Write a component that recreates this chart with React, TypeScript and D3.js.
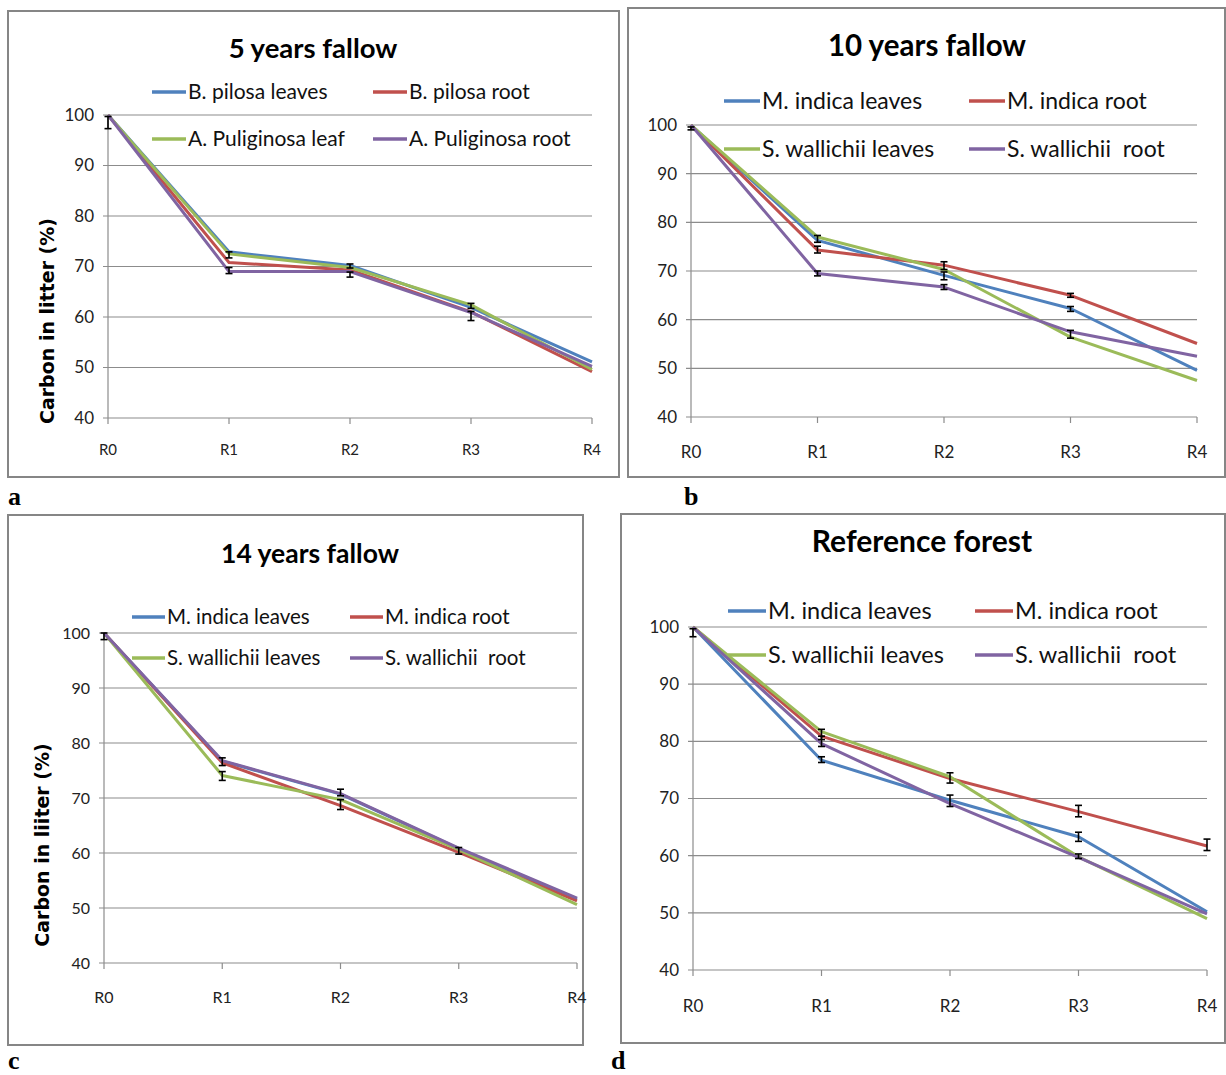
import React from 'react'
import * as d3 from 'd3'

const categories = ['R0', 'R1', 'R2', 'R3', 'R4']
const yTicks = [40, 50, 60, 70, 80, 90, 100]
const colors = ['#4F81BD', '#C0504D', '#9BBB59', '#8064A2']

// 5 years fallow
const fallow5Names = ['B. pilosa leaves', 'B. pilosa root', 'A. Puliginosa leaf', 'A. Puliginosa root']
const fallow5Values = [
  [100, 72.9, 70.2, 61.9, 51.1],
  [100, 70.8, 69.3, 61.0, 49.2],
  [100, 72.5, 69.8, 62.4, 49.6],
  [100, 69.0, 69.0, 60.9, 50.2],
]
const fallow5Errors = [
  { cat: 'R0', mean: 98.5, err: 1.2 },
  { cat: 'R1', mean: 72.3, err: 0.6 },
  { cat: 'R1', mean: 69.2, err: 0.6 },
  { cat: 'R2', mean: 70.1, err: 0.4 },
  { cat: 'R2', mean: 68.4, err: 0.5 },
  { cat: 'R3', mean: 62.2, err: 0.5 },
  { cat: 'R3', mean: 60.2, err: 0.9 },
]

// 10 years fallow
const fallow10Names = ['M. indica leaves', 'M. indica root', 'S. wallichii leaves', 'S. wallichii\u00a0 root']
const fallow10Values = [
  [100, 76.3, 69.1, 62.3, 49.6],
  [100, 74.3, 71.2, 65.0, 55.1],
  [100, 77.0, 70.3, 56.4, 47.5],
  [100, 69.5, 66.7, 57.5, 52.5],
]
const fallow10Errors = [
  { cat: 'R0', mean: 99.3, err: 0.3 },
  { cat: 'R1', mean: 76.6, err: 0.7 },
  { cat: 'R1', mean: 74.4, err: 0.7 },
  { cat: 'R1', mean: 69.5, err: 0.5 },
  { cat: 'R2', mean: 71.1, err: 0.8 },
  { cat: 'R2', mean: 69.0, err: 0.8 },
  { cat: 'R2', mean: 66.7, err: 0.5 },
  { cat: 'R3', mean: 65.0, err: 0.4 },
  { cat: 'R3', mean: 62.2, err: 0.5 },
  { cat: 'R3', mean: 57.0, err: 0.8 },
]

// 14 years fallow
const fallow14Names = ['M. indica leaves', 'M. indica root', 'S. wallichii leaves', 'S. wallichii\u00a0 root']
const fallow14Values = [
  [100, 76.7, 70.7, 60.8, 51.6],
  [100, 76.4, 68.6, 60.1, 51.3],
  [100, 74.1, 69.7, 60.6, 50.6],
  [100, 76.8, 70.8, 60.9, 51.8],
]
const fallow14Errors = [
  { cat: 'R0', mean: 99.4, err: 0.6 },
  { cat: 'R1', mean: 76.6, err: 0.7 },
  { cat: 'R1', mean: 74.0, err: 0.8 },
  { cat: 'R2', mean: 71.0, err: 0.6 },
  { cat: 'R2', mean: 68.8, err: 0.9 },
  { cat: 'R3', mean: 60.4, err: 0.6 },
]

// Reference forest
const forestNames = ['M. indica leaves', 'M. indica root', 'S. wallichii leaves', 'S. wallichii\u00a0 root']
const forestValues = [
  [100, 76.7, 69.7, 63.3, 50.2],
  [100, 80.9, 73.5, 67.7, 61.7],
  [100, 81.7, 73.8, 59.8, 49.0],
  [100, 79.6, 69.1, 59.7, 49.8],
]
const forestErrors = [
  { cat: 'R0', mean: 99.0, err: 0.7 },
  { cat: 'R1', mean: 81.2, err: 0.9 },
  { cat: 'R1', mean: 80.0, err: 0.9 },
  { cat: 'R1', mean: 76.8, err: 0.5 },
  { cat: 'R2', mean: 73.6, err: 0.9 },
  { cat: 'R2', mean: 69.6, err: 1.0 },
  { cat: 'R3', mean: 67.8, err: 1.0 },
  { cat: 'R3', mean: 63.3, err: 0.8 },
  { cat: 'R3', mean: 59.9, err: 0.4 },
  { cat: 'R4', mean: 61.9, err: 1.0 },
]

const sans = "Lato, 'Open Sans', sans-serif"

const panels = [
  {
    title: '5 years fallow', names: fallow5Names, values: fallow5Values, errors: fallow5Errors,
    frame: [8, 11, 611, 466], xr: [108, 592], yr: [418, 115], titleXY: [313, 58], titleSize: 27.5,
    legRows: [92, 139], legCols: [152, 373], legLen: 34, legSize: 21, tickY: 455, tickSize: 15, ySize: 17,
    yLabel: 'Carbon in litter (%)', yLabelXY: [47, 321], letter: 'a', letterXY: [8, 505],
  },
  {
    title: '10 years fallow', names: fallow10Names, values: fallow10Values, errors: fallow10Errors,
    frame: [628, 8, 597, 469], xr: [691, 1197], yr: [417, 125], titleXY: [927, 56], titleSize: 29.5,
    legRows: [101, 149], legCols: [724, 969], legLen: 36, legSize: 23, tickY: 458, tickSize: 17, ySize: 17,
    yLabel: '', yLabelXY: [0, 0], letter: 'b', letterXY: [684, 505],
  },
  {
    title: '14 years fallow', names: fallow14Names, values: fallow14Values, errors: fallow14Errors,
    frame: [8, 515, 575, 530], xr: [104, 577], yr: [963, 633], titleXY: [310, 563], titleSize: 26.5,
    legRows: [617, 658], legCols: [132, 350], legLen: 33, legSize: 20.5, tickY: 1003, tickSize: 16, ySize: 16,
    yLabel: 'Carbon in liiter (%)', yLabelXY: [42, 845], letter: 'c', letterXY: [8, 1069],
  },
  {
    title: 'Reference forest', names: forestNames, values: forestValues, errors: forestErrors,
    frame: [621, 514, 604, 529], xr: [693, 1207], yr: [970, 627], titleXY: [922, 552], titleSize: 30,
    legRows: [611, 655], legCols: [728, 975], legLen: 38, legSize: 23.5, tickY: 1012, tickSize: 17, ySize: 17,
    yLabel: '', yLabelXY: [0, 0], letter: 'd', letterXY: [611, 1069],
  },
]

const Panel = ({ p }) => {
  const x = d3.scalePoint().domain(categories).range(p.xr)
  const y = d3.scaleLinear().domain([40, 100]).range(p.yr)
  const line = d3.line().x((d, i) => x(categories[i])).y(d => y(d))
  const [fx, fy, fw, fh] = p.frame
  const x0 = p.xr[0]
  const x1 = p.xr[1]
  return (
    <g>
      <rect x={fx} y={fy} width={fw} height={fh} fill="#fff" stroke="#868686" strokeWidth={2} />
      {yTicks.map(t => (
        <g key={t}>
          <line x1={x0 - 5} x2={x1} y1={y(t)} y2={y(t)} stroke="#8c8c8c" strokeWidth={1.2} />
          <text x={x0 - 14} y={y(t)} dy="0.35em" textAnchor="end" fontSize={p.ySize}
            fontFamily={sans} fill="#222">{t}</text>
        </g>
      ))}
      <line x1={x0} x2={x0} y1={p.yr[0]} y2={p.yr[1]} stroke="#8c8c8c" strokeWidth={1.2} />
      {categories.map(c => (
        <g key={c}>
          <line x1={x(c)} x2={x(c)} y1={p.yr[0]} y2={p.yr[0] + 6} stroke="#8c8c8c" strokeWidth={1.2} />
          <text x={x(c)} y={p.tickY} textAnchor="middle" fontSize={p.tickSize}
            fontFamily={sans} fill="#222">{c}</text>
        </g>
      ))}
      {p.values.map((vals, i) => (
        <path key={i} d={line(vals)} fill="none" stroke={colors[i]} strokeWidth={3} strokeLinejoin="round" />
      ))}
      {p.errors.map((e, i) => {
        const cx = x(e.cat)
        const ya = y(e.mean + e.err)
        const yb = y(e.mean - e.err)
        return (
          <g key={i} stroke="#000" strokeWidth={1.6}>
            <line x1={cx} x2={cx} y1={ya} y2={yb} />
            <line x1={cx - 3.5} x2={cx + 3.5} y1={ya} y2={ya} />
            <line x1={cx - 3.5} x2={cx + 3.5} y1={yb} y2={yb} />
          </g>
        )
      })}
      {p.names.map((n, i) => {
        const lx = p.legCols[i % 2]
        const ly = p.legRows[Math.floor(i / 2)]
        return (
          <g key={n}>
            <line x1={lx} x2={lx + p.legLen} y1={ly} y2={ly} stroke={colors[i]} strokeWidth={3.5} />
            <text x={lx + p.legLen + 2} y={ly} dy="0.35em" fontSize={p.legSize} fontFamily={sans} fill="#111">{n}</text>
          </g>
        )
      })}
      <text x={p.titleXY[0]} y={p.titleXY[1]} textAnchor="middle" fontSize={p.titleSize} fontWeight="bold"
        fontFamily={sans} fill="#000">{p.title}</text>
      {p.yLabel && (
        <text transform={`translate(${p.yLabelXY[0]},${p.yLabelXY[1]}) rotate(-90)`} textAnchor="middle"
          dy="0.35em" fontSize={19} fontWeight="bold" fontFamily="'DejaVu Sans', sans-serif" fill="#000">{p.yLabel}</text>
      )}
      <text x={p.letterXY[0]} y={p.letterXY[1]} fontSize={26} fontWeight="bold"
        fontFamily="'Liberation Serif', 'DejaVu Serif', serif" fill="#000">{p.letter}</text>
    </g>
  )
}

const App = () => (
  <svg width={1226} height={1075} style={{ position: 'absolute', left: 0, top: 0, background: '#fff' }}>
    <rect width={1226} height={1075} fill="#fff" />
    {panels.map(p => <Panel key={p.title} p={p} />)}
  </svg>
)

export default App
